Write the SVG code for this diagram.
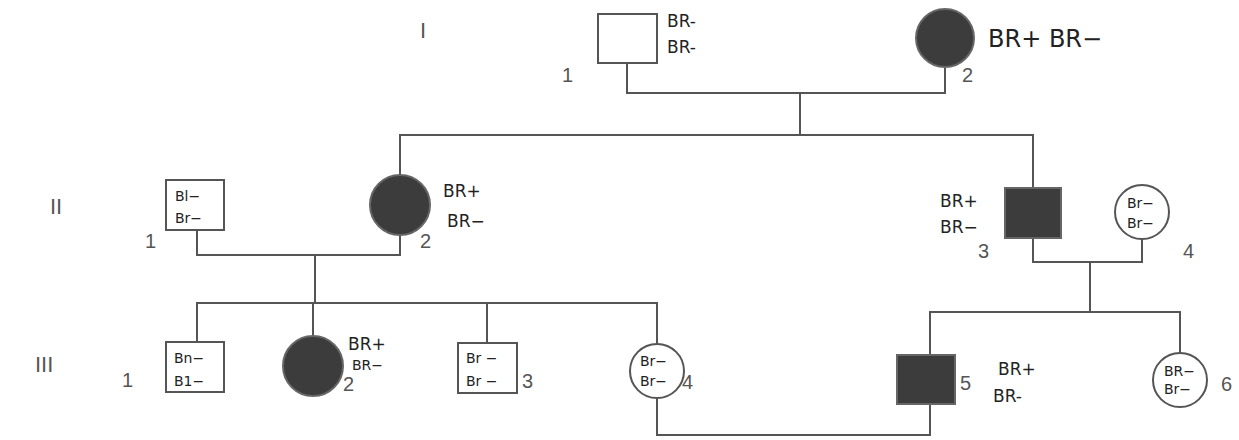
<svg xmlns="http://www.w3.org/2000/svg" width="1239" height="440" viewBox="0 0 1239 440">
<style>
.ln{fill:none;stroke:#555;stroke-width:2}
.un{fill:#fff;stroke:#555;stroke-width:2}
.af{fill:#3c3c3c;stroke:#666;stroke-width:2}
.g{font-family:"Liberation Sans",Arial,sans-serif;fill:#555}
.h{font-family:"DejaVu Sans","Liberation Sans",sans-serif;fill:#222}
.num{font-size:20px}
.gen{font-size:22px}
.t{font-size:17px}
.ti{font-size:14px}
</style>
<rect width="1239" height="440" fill="#fff"/>
<g id="gen-labels" class="g gen">
<text x="420" y="38">I</text>
<text x="50" y="214">II</text>
<text x="35" y="372">III</text>
</g>
<g id="connectors">
<path class="ln" d="M627 63 V93 H945 V68"/>
<path class="ln" d="M800 93 V135"/>
<path class="ln" d="M400 175 V135 H1033 V188"/>
<path class="ln" d="M197 230 V255 H400 V235"/>
<path class="ln" d="M315 255 V303"/>
<path class="ln" d="M197 342 V303 H657 V344"/>
<path class="ln" d="M313 303 V336"/>
<path class="ln" d="M487 303 V343"/>
<path class="ln" d="M1033 238 V262 H1142 V238"/>
<path class="ln" d="M1090 262 V312"/>
<path class="ln" d="M930 355 V312 H1180 V353"/>
<path class="ln" d="M657 398 V435 H930 V404"/>
</g>
<g id="I-1">
<rect class="un" x="598" y="14" width="59" height="49"/>
<text class="g num" x="562" y="82">1</text>
<text class="h t" x="667" y="27">BR-</text>
<text class="h t" x="667" y="53">BR-</text>
</g>
<g id="I-2">
<circle class="af" cx="945" cy="38" r="29"/>
<text class="g num" x="962" y="82">2</text>
<text class="h" font-size="24" x="988" y="47">BR+ BR−</text>
</g>
<g id="II-1">
<rect class="un" x="166" y="180" width="58" height="50"/>
<text class="h ti" x="175" y="201">Bl−</text>
<text class="h ti" x="175" y="223">Br−</text>
<text class="g num" x="145" y="248">1</text>
</g>
<g id="II-2">
<circle class="af" cx="400" cy="205" r="30"/>
<text class="h t" x="443" y="197">BR+</text>
<text class="h t" x="447" y="227">BR−</text>
<text class="g num" x="420" y="248">2</text>
</g>
<g id="II-3">
<rect class="af" x="1005" y="188" width="56" height="50"/>
<text class="h t" x="940" y="207">BR+</text>
<text class="h t" x="940" y="233">BR−</text>
<text class="g num" x="978" y="258">3</text>
</g>
<g id="II-4">
<circle class="un" cx="1142" cy="212" r="27"/>
<text class="h ti" x="1127" y="208">Br−</text>
<text class="h ti" x="1127" y="228">Br−</text>
<text class="g num" x="1183" y="258">4</text>
</g>
<g id="III-1">
<rect class="un" x="166" y="342" width="58" height="50"/>
<text class="h ti" x="174" y="363">Bn−</text>
<text class="h ti" x="174" y="386">B1−</text>
<text class="g num" x="122" y="387">1</text>
</g>
<g id="III-2">
<circle class="af" cx="313" cy="366" r="30"/>
<text class="h t" x="348" y="350">BR+</text>
<text class="h ti" x="352" y="370">BR−</text>
<text class="g num" x="343" y="391">2</text>
</g>
<g id="III-3">
<rect class="un" x="458" y="343" width="59" height="50"/>
<text class="h ti" x="466" y="363">Br −</text>
<text class="h ti" x="466" y="386">Br −</text>
<text class="g num" x="522" y="388">3</text>
</g>
<g id="III-4">
<circle class="un" cx="657" cy="371" r="27"/>
<text class="h ti" x="640" y="366">Br−</text>
<text class="h ti" x="640" y="386">Br−</text>
<text class="g num" x="682" y="389">4</text>
</g>
<g id="III-5">
<rect class="af" x="897" y="355" width="58" height="49"/>
<text class="g num" x="960" y="390">5</text>
<text class="h t" x="998" y="375">BR+</text>
<text class="h t" x="993" y="402">BR-</text>
</g>
<g id="III-6">
<circle class="un" cx="1180" cy="380" r="27"/>
<text class="h ti" x="1164" y="376">BR−</text>
<text class="h ti" x="1164" y="394">Br−</text>
<text class="g num" x="1221" y="391">6</text>
</g>
</svg>
